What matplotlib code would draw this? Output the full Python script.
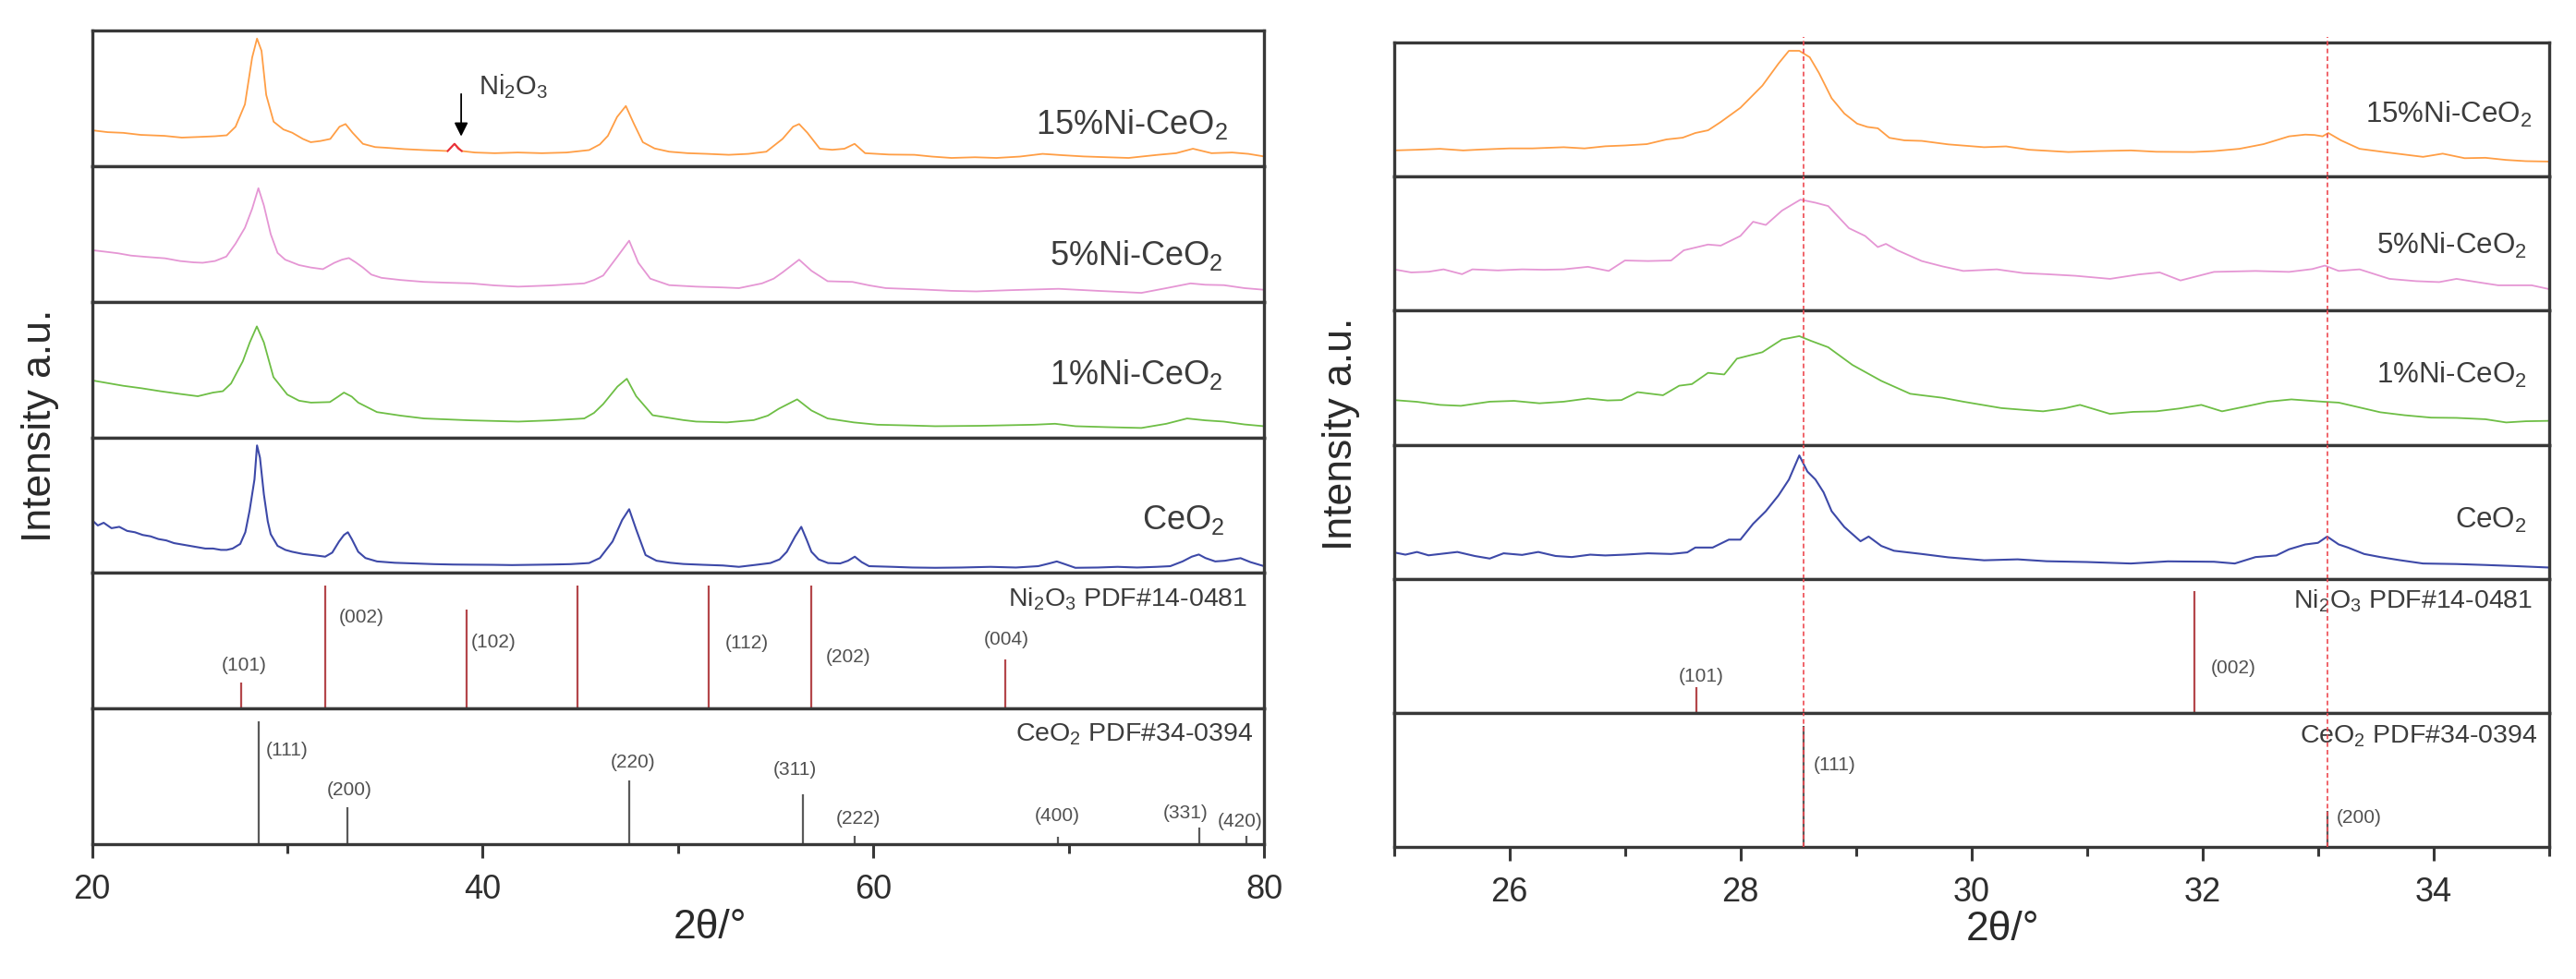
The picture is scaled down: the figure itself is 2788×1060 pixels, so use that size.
import numpy as np
import matplotlib
matplotlib.use("Agg")
import matplotlib.pyplot as plt

# ---------------- data ----------------
# XRD patterns, intensity in a.u. scaled to each strip (0 = bottom, 1 = top)
WIDE_15NI = [(20.0, 0.264), (20.8, 0.25), (21.6, 0.245), (22.5, 0.23), (23.7, 0.223), (24.6, 0.21),
             (25.5, 0.215), (26.3, 0.22), (26.9, 0.227), (27.35, 0.29), (27.83, 0.455), (28.2, 0.80),
             (28.45, 0.94), (28.68, 0.85), (28.92, 0.525), (29.3, 0.327), (29.8, 0.27), (30.25, 0.246),
             (30.8, 0.2), (31.2, 0.176), (31.7, 0.185), (32.2, 0.2), (32.67, 0.29), (32.98, 0.31),
             (33.34, 0.246), (33.87, 0.164), (34.5, 0.14), (35.07, 0.135), (36.0, 0.125), (37.0, 0.118),
             (37.6, 0.115), (38.21, 0.111), (38.56, 0.164), (38.93, 0.111), (39.6, 0.1), (40.62, 0.095),
             (41.8, 0.1), (43.03, 0.095), (44.3, 0.1), (45.45, 0.118), (46.0, 0.16), (46.41, 0.223),
             (46.88, 0.362), (47.33, 0.443), (47.73, 0.316), (48.2, 0.176), (48.8, 0.13), (49.55, 0.106),
             (50.5, 0.095), (51.5, 0.09), (52.6, 0.083), (53.6, 0.09), (54.52, 0.106), (55.35, 0.2),
             (55.89, 0.29), (56.2, 0.31), (56.62, 0.246), (57.26, 0.128), (57.9, 0.12), (58.52, 0.128),
             (59.04, 0.164), (59.58, 0.095), (60.8, 0.085), (62.1, 0.083), (63.0, 0.07), (64.0, 0.06),
             (65.2, 0.065), (66.3, 0.06), (67.5, 0.07), (68.66, 0.09), (69.7, 0.08), (70.76, 0.071),
             (72.0, 0.065), (73.07, 0.06), (74.57, 0.083), (75.5, 0.095), (76.36, 0.128), (77.31, 0.095),
             (78.37, 0.1), (79.2, 0.09), (80.0, 0.071)]
NI2O3_BUMP = [(38.21, 0.111), (38.4, 0.14), (38.56, 0.164), (38.75, 0.13), (38.93, 0.111)]

WIDE_5NI = [(20.0, 0.38), (20.6, 0.37), (21.33, 0.357), (22.0, 0.34), (22.8, 0.33), (23.74, 0.32),
            (24.5, 0.30), (25.2, 0.29), (25.67, 0.287), (26.3, 0.30), (26.88, 0.333), (27.35, 0.428),
            (27.83, 0.545), (28.2, 0.685), (28.52, 0.837), (28.8, 0.71), (29.15, 0.498), (29.5, 0.36),
            (29.89, 0.31), (30.6, 0.27), (31.21, 0.252), (31.82, 0.24), (32.41, 0.287), (32.8, 0.31),
            (33.15, 0.322), (33.5, 0.29), (33.87, 0.252), (34.3, 0.2), (34.82, 0.176), (35.8, 0.16),
            (37.0, 0.146), (38.2, 0.14), (39.41, 0.135), (40.6, 0.12), (41.82, 0.111), (43.5, 0.12),
            (45.2, 0.135), (45.7, 0.16), (46.17, 0.193), (46.9, 0.333), (47.5, 0.45), (47.97, 0.287),
            (48.58, 0.17), (49.55, 0.122), (50.93, 0.111), (52.3, 0.105), (53.12, 0.1), (54.3, 0.135),
            (54.9, 0.17), (55.35, 0.216), (56.2, 0.31), (56.83, 0.228), (57.66, 0.151), (58.93, 0.146),
            (59.8, 0.12), (60.64, 0.1), (62.5, 0.09), (64.0, 0.08), (65.27, 0.076), (67.0, 0.085),
            (69.48, 0.095), (71.5, 0.08), (73.72, 0.065), (75.0, 0.1), (76.24, 0.135), (77.0, 0.125),
            (77.94, 0.122), (79.0, 0.1), (80.0, 0.088)]

WIDE_1NI = [(20.0, 0.42), (20.8, 0.40), (21.6, 0.38), (22.53, 0.362), (23.5, 0.34), (24.5, 0.32),
            (25.42, 0.303), (26.2, 0.33), (26.7, 0.34), (27.12, 0.397), (27.72, 0.56), (28.08, 0.70),
            (28.44, 0.818), (28.8, 0.70), (29.29, 0.444), (30.0, 0.315), (30.6, 0.27), (31.21, 0.256),
            (32.18, 0.26), (32.6, 0.30), (32.9, 0.33), (33.3, 0.3), (33.63, 0.256), (34.59, 0.186),
            (35.8, 0.16), (37.0, 0.139), (39.4, 0.125), (41.82, 0.116), (43.5, 0.125), (45.2, 0.139),
            (45.7, 0.18), (46.17, 0.245), (46.9, 0.374), (47.38, 0.432), (47.86, 0.303), (48.7, 0.163),
            (50.28, 0.127), (50.93, 0.116), (52.5, 0.11), (53.88, 0.127), (54.6, 0.16), (55.15, 0.21),
            (56.1, 0.28), (56.83, 0.198), (57.66, 0.139), (59.0, 0.11), (60.21, 0.093), (61.7, 0.088),
            (63.17, 0.082), (65.5, 0.085), (68.23, 0.093), (69.3, 0.1), (70.35, 0.082), (72.0, 0.075),
            (73.72, 0.069), (75.0, 0.1), (76.06, 0.139), (77.0, 0.125), (77.94, 0.116), (79.0, 0.095),
            (80.0, 0.082)]

WIDE_CEO2 = [(20.0, 0.39), (20.3, 0.35), (20.6, 0.37), (21.0, 0.33), (21.4, 0.34), (21.8, 0.31),
             (22.2, 0.30), (22.6, 0.28), (23.0, 0.27), (23.4, 0.25), (23.8, 0.24), (24.2, 0.22),
             (24.6, 0.21), (25.0, 0.20), (25.4, 0.19), (25.8, 0.18), (26.2, 0.18), (26.6, 0.17),
             (26.9, 0.17), (27.2, 0.18), (27.59, 0.214), (27.85, 0.3), (28.07, 0.46), (28.32, 0.69),
             (28.45, 0.94), (28.6, 0.85), (28.8, 0.58), (29.0, 0.38), (29.15, 0.286), (29.5, 0.2),
             (29.9, 0.17), (30.25, 0.156), (30.8, 0.14), (31.4, 0.13), (31.94, 0.12), (32.3, 0.15),
             (32.65, 0.232), (32.9, 0.28), (33.1, 0.30), (33.3, 0.25), (33.63, 0.156), (34.0, 0.11),
             (34.59, 0.085), (35.5, 0.075), (36.5, 0.07), (37.5, 0.065), (38.5, 0.062), (39.41, 0.061),
             (40.5, 0.06), (41.5, 0.058), (42.5, 0.06), (43.5, 0.062), (44.5, 0.065), (45.45, 0.073),
             (46.0, 0.11), (46.65, 0.232), (47.14, 0.39), (47.5, 0.47), (47.86, 0.32), (48.34, 0.132),
             (48.9, 0.09), (49.6, 0.075), (50.28, 0.066), (51.3, 0.06), (52.3, 0.055), (53.12, 0.045),
             (54.0, 0.06), (54.73, 0.073), (55.2, 0.1), (55.57, 0.156), (56.0, 0.27), (56.31, 0.34),
             (56.6, 0.24), (56.83, 0.156), (57.2, 0.1), (57.68, 0.073), (58.3, 0.07), (58.7, 0.09),
             (59.05, 0.12), (59.4, 0.08), (59.78, 0.05), (61.0, 0.045), (62.0, 0.04), (63.17, 0.038),
             (64.5, 0.04), (66.0, 0.045), (67.3, 0.04), (68.44, 0.05), (69.0, 0.07), (69.39, 0.085),
             (69.8, 0.065), (70.34, 0.038), (71.5, 0.04), (72.5, 0.045), (73.5, 0.04), (74.5, 0.045),
             (75.2, 0.05), (75.83, 0.085), (76.3, 0.12), (76.66, 0.136), (77.0, 0.11), (77.5, 0.085),
             (78.0, 0.09), (78.4, 0.1), (78.8, 0.109), (79.3, 0.08), (80.0, 0.05)]

ZOOM_15NI = [(25.0, 0.195), (25.2, 0.20), (25.4, 0.207), (25.6, 0.195), (25.76, 0.202), (26.0, 0.21),
             (26.2, 0.21), (26.47, 0.219), (26.65, 0.21), (26.83, 0.226), (27.0, 0.232), (27.19, 0.242),
             (27.36, 0.277), (27.5, 0.29), (27.61, 0.325), (27.72, 0.345), (27.83, 0.407), (28.0, 0.513),
             (28.19, 0.678), (28.33, 0.843), (28.42, 0.938), (28.51, 0.938), (28.6, 0.89), (28.68, 0.773),
             (28.79, 0.584), (28.9, 0.47), (29.01, 0.395), (29.1, 0.37), (29.19, 0.36), (29.29, 0.289),
             (29.42, 0.27), (29.57, 0.266), (29.8, 0.24), (30.11, 0.219), (30.3, 0.225), (30.5, 0.2),
             (30.84, 0.183), (31.1, 0.19), (31.38, 0.195), (31.6, 0.185), (31.92, 0.183), (32.1, 0.19),
             (32.32, 0.207), (32.53, 0.242), (32.75, 0.30), (32.89, 0.313), (32.97, 0.31), (33.04, 0.30),
             (33.09, 0.325), (33.2, 0.27), (33.36, 0.207), (33.6, 0.18), (33.91, 0.147), (34.08, 0.171),
             (34.27, 0.137), (34.45, 0.14), (34.63, 0.124), (34.8, 0.115), (35.0, 0.112)]

ZOOM_5NI = [(25.0, 0.308), (25.15, 0.285), (25.3, 0.29), (25.43, 0.308), (25.59, 0.272), (25.68, 0.308),
            (25.9, 0.30), (26.11, 0.308), (26.3, 0.305), (26.47, 0.308), (26.68, 0.327), (26.86, 0.296),
            (27.0, 0.374), (27.2, 0.37), (27.4, 0.374), (27.51, 0.45), (27.72, 0.493), (27.83, 0.485),
            (28.0, 0.557), (28.11, 0.663), (28.22, 0.639), (28.36, 0.746), (28.52, 0.828), (28.65, 0.805),
            (28.76, 0.78), (28.94, 0.615), (29.08, 0.557), (29.19, 0.474), (29.26, 0.498), (29.36, 0.45),
            (29.57, 0.37), (29.75, 0.33), (29.93, 0.296), (30.22, 0.308), (30.45, 0.28), (30.65, 0.272),
            (30.9, 0.26), (31.2, 0.237), (31.45, 0.27), (31.63, 0.285), (31.81, 0.225), (32.1, 0.289),
            (32.46, 0.296), (32.75, 0.289), (32.95, 0.31), (33.06, 0.336), (33.18, 0.296), (33.36, 0.308),
            (33.62, 0.237), (33.85, 0.22), (34.05, 0.213), (34.2, 0.237), (34.4, 0.21), (34.56, 0.189),
            (34.85, 0.189), (35.0, 0.161)]

ZOOM_1NI = [(25.0, 0.333), (25.2, 0.32), (25.4, 0.297), (25.58, 0.29), (25.7, 0.305), (25.83, 0.321),
            (26.04, 0.327), (26.26, 0.309), (26.47, 0.321), (26.68, 0.345), (26.85, 0.33), (26.97, 0.333),
            (27.11, 0.392), (27.33, 0.369), (27.47, 0.44), (27.58, 0.452), (27.72, 0.536), (27.86, 0.524),
            (27.97, 0.642), (28.19, 0.69), (28.36, 0.785), (28.51, 0.81), (28.61, 0.775), (28.76, 0.727),
            (28.97, 0.595), (29.22, 0.476), (29.47, 0.38), (29.57, 0.369), (29.75, 0.35), (29.93, 0.321),
            (30.26, 0.273), (30.45, 0.26), (30.62, 0.249), (30.8, 0.27), (30.94, 0.297), (31.2, 0.23),
            (31.4, 0.245), (31.6, 0.249), (31.8, 0.27), (31.99, 0.297), (32.17, 0.249), (32.4, 0.29),
            (32.57, 0.321), (32.77, 0.338), (33.04, 0.321), (33.18, 0.314), (33.54, 0.242), (33.75, 0.22),
            (33.98, 0.202), (34.2, 0.2), (34.45, 0.19), (34.63, 0.166), (34.8, 0.175), (35.0, 0.178)]

ZOOM_CEO2 = [(25.0, 0.197), (25.1, 0.18), (25.2, 0.2), (25.3, 0.175), (25.4, 0.185), (25.55, 0.2),
             (25.7, 0.17), (25.83, 0.151), (25.95, 0.19), (26.11, 0.178), (26.25, 0.2), (26.4, 0.17),
             (26.54, 0.162), (26.7, 0.18), (26.83, 0.174), (27.0, 0.18), (27.2, 0.19), (27.4, 0.185),
             (27.54, 0.197), (27.61, 0.233), (27.76, 0.233), (27.9, 0.292), (28.0, 0.292), (28.11, 0.41),
             (28.22, 0.504), (28.33, 0.622), (28.42, 0.74), (28.51, 0.92), (28.58, 0.8), (28.65, 0.74),
             (28.72, 0.645), (28.79, 0.504), (28.9, 0.386), (29.04, 0.28), (29.11, 0.315), (29.22, 0.245),
             (29.33, 0.209), (29.57, 0.185), (29.8, 0.16), (30.11, 0.138), (30.4, 0.145), (30.65, 0.131),
             (31.0, 0.125), (31.38, 0.114), (31.7, 0.13), (32.1, 0.127), (32.28, 0.114), (32.46, 0.162),
             (32.64, 0.174), (32.75, 0.22), (32.89, 0.256), (33.0, 0.268), (33.08, 0.315), (33.18, 0.256),
             (33.26, 0.233), (33.4, 0.185), (33.54, 0.162), (33.7, 0.14), (33.91, 0.114), (34.2, 0.11),
             (34.45, 0.103), (34.7, 0.095), (35.0, 0.084)]

SAMPLE_NAMES = ["15%Ni-CeO$_2$", "5%Ni-CeO$_2$", "1%Ni-CeO$_2$", "CeO$_2$"]
SAMPLE_COLORS = ["#FF9E45", "#E596D4", "#6EBE45", "#3D49A8"]

# reference cards (stick patterns)
NI2O3_POS = [27.62, 31.93, 39.17, 44.87, 51.55, 56.8, 66.75]
NI2O3_INT = [0.19, 0.91, 0.73, 0.91, 0.91, 0.91, 0.36]
NI2O3_HKL = ["(101)", "(002)", "(102)", "", "(112)", "(202)", "(004)"]
CEO2_POS = [28.55, 33.08, 47.48, 56.38, 59.05, 69.43, 76.67, 79.1]
CEO2_INT = [0.905, 0.27, 0.47, 0.37, 0.06, 0.055, 0.12, 0.06]
CEO2_HKL = ["(111)", "(200)", "(220)", "(311)", "(222)", "(400)", "(331)", "(420)"]
NI2O3_CARD = "Ni$_2$O$_3$ PDF#14-0481"
CEO2_CARD = "CeO$_2$ PDF#34-0394"

# ---------------- style ----------------
plt.rcParams["font.family"] = ["Liberation Sans", "DejaVu Sans"]
plt.rcParams["mathtext.default"] = "regular"
FRAME = "#383838"
TXT = "#3c3c3c"

# hkl label placement per panel: hkl -> (x, y axes frac, ha)
NI_LBL_WIDE = {"(101)": (27.80, 0.315, "center"), "(002)": (32.65, 0.67, "left"),
               "(102)": (39.41, 0.49, "left"), "(112)": (52.41, 0.48, "left"),
               "(202)": (57.56, 0.377, "left"), "(004)": (66.83, 0.507, "center")}
CE_LBL_WIDE = {"(111)": (28.91, 0.69, "left"), "(200)": (33.17, 0.40, "center"),
               "(220)": (47.71, 0.60, "center"), "(311)": (56.0, 0.55, "center"),
               "(222)": (59.22, 0.19, "center"), "(400)": (69.39, 0.205, "center"),
               "(331)": (75.96, 0.23, "center"), "(420)": (78.75, 0.17, "center")}
NI_LBL_ZOOM = {"(101)": (27.66, 0.27, "center"), "(002)": (32.07, 0.335, "left")}
CE_LBL_ZOOM = {"(111)": (28.63, 0.61, "left"), "(200)": (33.16, 0.215, "left")}


def stack(fig, left, right, bottom, top):
    h = (top - bottom) / 6
    axes = []
    for i in range(6):
        ax = fig.add_axes([left, top - (i + 1) * h, right - left, h])
        for sp in ax.spines.values():
            sp.set_color(FRAME)
            sp.set_linewidth(2.4)
        ax.set_ylim(0, 1)
        ax.set_yticks([])
        ax.tick_params(axis="x", which="both", bottom=False, labelbottom=False)
        axes.append(ax)
    return axes


def draw_panel(axes, curves, xlim, samp_x, samp_y, samp_fs, card_pos, ni_lbl, ce_lbl):
    for ax in axes:
        ax.set_xlim(*xlim)
    for k, (ax, data) in enumerate(zip(axes[:4], curves)):
        arr = np.array(data)
        ax.plot(arr[:, 0], arr[:, 1], color=SAMPLE_COLORS[k], lw=1.3 if k < 3 else 1.5)
        ax.text(samp_x[k], samp_y[k], SAMPLE_NAMES[k], transform=ax.transAxes, ha="right",
                va="baseline", fontsize=samp_fs, color=TXT)
    ni_ax, ce_ax = axes[4], axes[5]
    ni_ax.vlines(NI2O3_POS, 0, NI2O3_INT, color="#B4474B", lw=1.6)
    ce_ax.vlines(CEO2_POS, 0, CEO2_INT, color="#5a5a5a", lw=1.6)
    for ax, lbls in ((ni_ax, ni_lbl), (ce_ax, ce_lbl)):
        for name, (x, y, ha) in lbls.items():
            ax.text(x, y, name, transform=ax.get_xaxis_transform(), ha=ha, va="center",
                    fontsize=15, color="#505050")
    (nx, ny), (cx, cy) = card_pos
    ni_ax.text(nx, ny, NI2O3_CARD, transform=ni_ax.transAxes, ha="right", va="baseline",
               fontsize=20.5, color=TXT)
    ce_ax.text(cx, cy, CEO2_CARD, transform=ce_ax.transAxes, ha="right", va="baseline",
               fontsize=20.5, color=TXT)
    bot = axes[5]
    bot.tick_params(axis="x", which="both", bottom=True, labelbottom=True, direction="out",
                    colors=FRAME, width=2.2, labelsize=26, labelcolor="#2e2e2e")
    bot.tick_params(axis="x", which="major", length=11, pad=12)
    bot.tick_params(axis="x", which="minor", length=7)


fig = plt.figure(figsize=(27.88, 10.60), dpi=100)

# ---- left: full range ----
wide = stack(fig, 0.0357, 0.4907, 0.1377, 0.9689)
wide[5].set_xticks([20, 40, 60, 80])
wide[5].set_xticks([30, 50, 70], minor=True)
draw_panel(wide, [WIDE_15NI, WIDE_5NI, WIDE_1NI, WIDE_CEO2], (20, 80),
           [0.969, 0.965, 0.965, 0.966], [0.236, 0.27, 0.39, 0.32], 26,
           ((0.986, 0.753), (0.991, 0.76)), NI_LBL_WIDE, CE_LBL_WIDE)
bump = np.array(NI2O3_BUMP)
wide[0].plot(bump[:, 0], bump[:, 1], color="#E8303E", lw=1.5)
wide[0].annotate("", xy=(38.9, 0.2), xytext=(38.9, 0.55),
                 arrowprops=dict(arrowstyle="-|>", color="black", lw=1.3, mutation_scale=22))
wide[0].text(39.8, 0.527, "Ni$_2$O$_3$", ha="left", va="baseline", fontsize=21, color=TXT)

# ---- right: zoom on (111)/(200) ----
zoom = stack(fig, 0.5411, 0.9895, 0.1349, 0.9566)
zoom[5].set_xticks([26, 28, 30, 32, 34])
zoom[5].set_xticks([25, 27, 29, 31, 33, 35], minor=True)
draw_panel(zoom, [ZOOM_15NI, ZOOM_5NI, ZOOM_1NI, ZOOM_CEO2], (25, 35),
           [0.985, 0.981, 0.981, 0.981], [0.40, 0.42, 0.46, 0.38], 22.5,
           ((0.986, 0.784), (0.99, 0.776)), NI_LBL_ZOOM, CE_LBL_ZOOM)
for k, ax in enumerate(zoom):
    for pos in CEO2_POS[:2]:
        ax.axvline(pos, ymin=0, ymax=1.04 if k == 0 else 1, color="#EE4A52", lw=1.2,
                   ls=(0, (3, 2)), clip_on=(k != 0), zorder=5)

# axis titles
for x, y in ((0.0156, 0.565), (0.5208, 0.5566)):
    fig.text(x, y, "Intensity a.u.", rotation=90, ha="center", va="center", fontsize=32, color="#2a2a2a")
for x, y in ((0.2758, 0.0415), (0.7773, 0.0396)):
    fig.text(x, y, "2θ/°", ha="center", va="baseline", fontsize=32, color="#2a2a2a")

fig.savefig("out.png", dpi=100, facecolor="white")
